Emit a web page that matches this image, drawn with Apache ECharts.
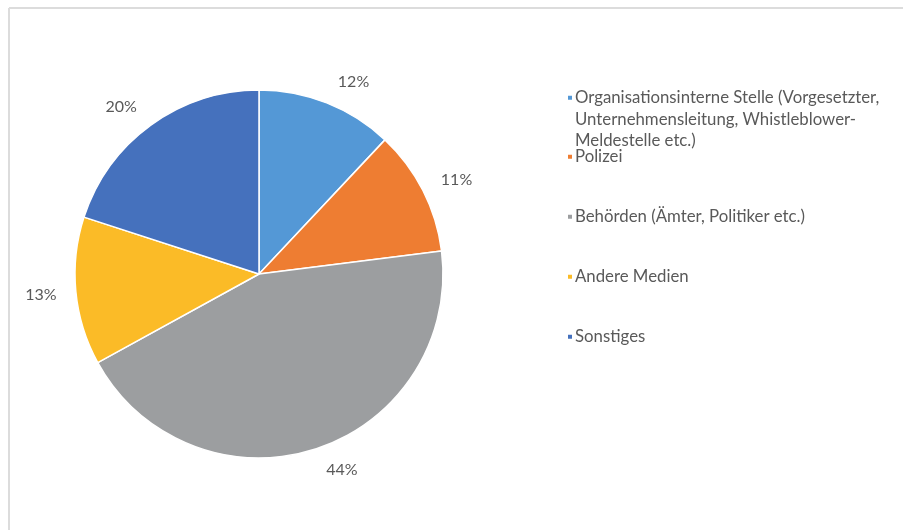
<!DOCTYPE html>
<html>
<head>
<meta charset="utf-8">
<script src="https://cdn.jsdelivr.net/npm/echarts@6/dist/echarts.min.js"></script>
<style>
  html, body { margin: 0; padding: 0; background: #ffffff; }
  #chart { width: 903px; height: 530px; }
</style>
</head>
<body>
<div id="chart"></div>
<script>
// Categories and their shares (percent)
const categories = [
  'Organisationsinterne Stelle (Vorgesetzter, Unternehmensleitung, Whistleblower-Meldestelle etc.)',
  'Polizei',
  'Behörden (Ämter, Politiker etc.)',
  'Andere Medien',
  'Sonstiges'
];
const shares = [12, 11, 44, 13, 20];

// Wrapped legend text for each category
const legendLabels = [
  'Organisationsinterne Stelle (Vorgesetzter,\nUnternehmensleitung, Whistleblower-\nMeldestelle etc.)',
  'Polizei',
  'Behörden (Ämter, Politiker etc.)',
  'Andere Medien',
  'Sonstiges'
];

const colors = ['#5498d6', '#ee7d32', '#9c9ea0', '#fbbb27', '#4571bd'];

// Vertical position of each legend entry
const legendTops = [86, 146, 206, 266, 326];

const FONT = 'Lato, "Open Sans", sans-serif';
const TEXT_COLOR = '#595959';
const LINE_H = 21.5;

const PIE_CENTER = [259, 274];
const PIE_RADIUS = 184;

const chart = echarts.init(document.getElementById('chart'), null, { renderer: 'canvas' });

// Marker sits beside the first line of a multi-line entry
function topMarker(lines) {
  const h = lines * LINE_H;
  const y0 = LINE_H / 2 - 3;
  return {
    icon: 'path://M0,0h0.01v0.01h-0.01z M0,' + y0 + 'h6v6h-6z M0,' + (h - 0.01) + 'h0.01v0.01h-0.01z',
    itemHeight: h
  };
}

const legends = categories.map((name, i) => {
  const lines = legendLabels[i].split('\n').length;
  const marker = lines > 1 ? topMarker(lines) : { icon: 'rect', itemHeight: 6 };
  return {
    data: [name],
    orient: 'vertical',
    left: 566,
    top: legendTops[i],
    padding: 0,
    itemWidth: 6,
    itemHeight: marker.itemHeight,
    icon: marker.icon,
    itemGap: 0,
    selectedMode: false,
    formatter: () => legendLabels[i],
    textStyle: {
      fontFamily: FONT,
      fontSize: 16.8,
      color: TEXT_COLOR,
      lineHeight: LINE_H,
      padding: [0, 0, 0, -3]
    }
  };
});

// Mid angle of each slice (clockwise from 12 o'clock), from the shares
const total = shares.reduce((a, b) => a + b, 0);
const midAngles = shares.map((v, i) => {
  const before = shares.slice(0, i).reduce((a, b) => a + b, 0);
  return (before + v / 2) / total * 2 * Math.PI;
});

// Outside-end labels: the box hugs the arc, pushed sideways by its own width
function placeLabel(params) {
  const a = midAngles[params.dataIndex];
  const ux = Math.sin(a), uy = -Math.cos(a);
  return {
    x: PIE_CENTER[0] + (PIE_RADIUS + 13) * ux + Math.sign(ux) * 22,
    y: PIE_CENTER[1] + (PIE_RADIUS + 20) * uy + Math.sign(uy) * 2,
    align: 'center',
    verticalAlign: 'middle'
  };
}

chart.setOption({
  animation: false,
  color: colors,
  graphic: [
    // light frame along the top and left edges
    { type: 'line', shape: { x1: 9, y1: 8, x2: 903, y2: 8 }, style: { stroke: '#dcdcdc', lineWidth: 2 } },
    { type: 'line', shape: { x1: 9, y1: 8, x2: 9, y2: 530 }, style: { stroke: '#dcdcdc', lineWidth: 2 } }
  ],
  legend: legends,
  series: [{
    type: 'pie',
    center: PIE_CENTER,
    radius: PIE_RADIUS,
    startAngle: 90,
    clockwise: true,
    avoidLabelOverlap: false,
    itemStyle: { borderColor: '#ffffff', borderWidth: 1.5 },
    label: {
      show: true,
      position: 'outside',
      formatter: '{c}%',
      fontFamily: FONT,
      fontSize: 16,
      color: TEXT_COLOR,
      distanceToLabelLine: 0
    },
    labelLine: { show: false, length: 30, length2: 0 },
    labelLayout: placeLabel,
    data: categories.map((name, i) => ({ name, value: shares[i] }))
  }]
});
</script>
</body>
</html>
